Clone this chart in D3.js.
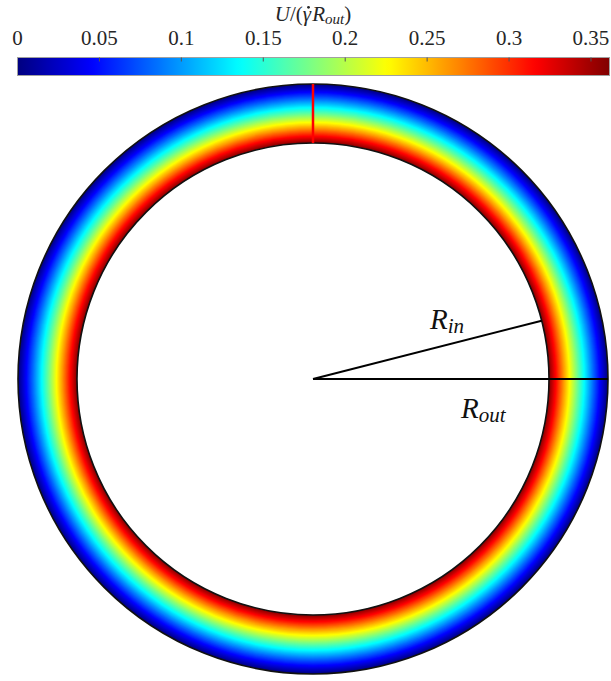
<!DOCTYPE html>
<html>
<head>
<meta charset="utf-8">
<script src="https://cdn.jsdelivr.net/npm/d3@7"></script>
<style>
  html, body { margin: 0; padding: 0; background: #fff; }
  svg { display: block; }
</style>
</head>
<body>
<svg id="chart" width="611" height="681"></svg>
<script>
// ---- data ----
// radial positions (r / R_out) and the velocity U/(gamma_dot R_out) there
const radialPos = [0.8, 0.85, 0.9, 0.95, 1.0];
const velocity  = [0.361, 0.263, 0.170, 0.083, 0.0];
const colorDomain = [0, 0.3613];
const tickValues = [0, 0.05, 0.1, 0.15, 0.2, 0.25, 0.3, 0.35];
const tickLabels = ["0", "0.05", "0.1", "0.15", "0.2", "0.25", "0.3", "0.35"];
const innerRadius = 0.8;   // R_in / R_out
const outerRadius = 1.0;
const rInAngleDeg = 14.3;  // angle of the R_in annotation line

// ---- jet colormap ----
function jet(t) {
  const c = v => Math.max(0, Math.min(1, v));
  const r = c(1.5 - Math.abs(4 * t - 3));
  const g = c(1.5 - Math.abs(4 * t - 2));
  const b = c(1.5 - Math.abs(4 * t - 1));
  return d3.rgb(r * 255, g * 255, b * 255).toString();
}

const svg = d3.select("#chart");
const serif = "'Liberation Serif', 'DejaVu Serif', serif";

// ---- colorbar ----
const cbX = d3.scaleLinear().domain(colorDomain).range([17.5, 609.5]);
const color = d3.scaleSequential(jet).domain(colorDomain);
const cbTop = 57.5, cbH = 18;

const defs = svg.append("defs");
const grad = defs.append("linearGradient").attr("id", "jetgrad")
  .attr("x1", "0%").attr("x2", "100%").attr("y1", "0%").attr("y2", "0%");
d3.range(0, 101).forEach(i => {
  grad.append("stop").attr("offset", i + "%").attr("stop-color", jet(i / 100));
});
svg.append("rect")
  .attr("x", cbX.range()[0]).attr("y", cbTop)
  .attr("width", cbX.range()[1] - cbX.range()[0]).attr("height", cbH)
  .attr("fill", "url(#jetgrad)")
  .attr("stroke", "#a0a0a0").attr("stroke-width", 1);

svg.append("g").selectAll("line").data(tickValues.slice(1)).join("line")
  .attr("x1", d => cbX(d)).attr("x2", d => cbX(d))
  .attr("y1", cbTop).attr("y2", cbTop + 4)
  .attr("stroke", "#555").attr("stroke-width", 1);

svg.append("g").selectAll("text").data(tickValues).join("text")
  .attr("x", d => cbX(d)).attr("y", 44.5)
  .attr("text-anchor", "middle")
  .attr("font-family", serif).attr("font-size", 21)
  .attr("fill", "#262626")
  .text((d, i) => tickLabels[i]);

// title U/(γ̇ R_out)
const title = svg.append("text")
  .attr("x", 313).attr("y", 21)
  .attr("text-anchor", "middle")
  .attr("font-family", serif).attr("font-size", 21).attr("fill", "#262626");
title.append("tspan").attr("font-style", "italic").text("U");
title.append("tspan").text("/(");
title.append("tspan").attr("font-style", "italic").text("\u03B3");
title.append("tspan").attr("font-style", "italic").attr("dx", 1).text("R");
title.append("tspan").attr("font-style", "italic").attr("font-size", 15).attr("dy", 3).text("out");
title.append("tspan").attr("dy", -3).text(")");
// dot above gamma (character index 3)
try {
  const ext = title.node().getExtentOfChar(3);
  svg.append("circle")
    .attr("cx", ext.x + ext.width / 2 + 1.5)
    .attr("cy", ext.y + ext.height * 0.22)
    .attr("r", 1.4).attr("fill", "#262626");
} catch (e) {}

// ---- ring ----
const cx = 313, cy = 379;
const rScale = d3.scaleLinear().domain([0, 1]).range([0, 295]);
const uOfR = d3.scaleLinear().domain(radialPos).range(velocity);

const ring = svg.append("g").attr("transform", `translate(${cx},${cy})`);
const nSteps = 180;
const steps = d3.range(nSteps + 1).map(i =>
  outerRadius - (outerRadius - innerRadius) * i / nSteps);
ring.selectAll("circle.band").data(steps).join("circle")
  .attr("class", "band")
  .attr("r", d => rScale(d))
  .attr("fill", d => color(uOfR(d)));
ring.append("circle").attr("r", rScale(innerRadius)).attr("fill", "#fff");

// outlines
ring.append("circle").attr("r", rScale(outerRadius))
  .attr("fill", "none").attr("stroke", "#111").attr("stroke-width", 1.6);
ring.append("circle").attr("r", rScale(innerRadius))
  .attr("fill", "none").attr("stroke", "#111").attr("stroke-width", 1.6);

// red vertical line at top
ring.append("line")
  .attr("x1", 0).attr("x2", 0)
  .attr("y1", -rScale(outerRadius)).attr("y2", -rScale(innerRadius))
  .attr("stroke", "#ff0000").attr("stroke-width", 2.5);

// R_in line
const a = rInAngleDeg * Math.PI / 180;
ring.append("line")
  .attr("x1", 0).attr("y1", 0)
  .attr("x2", rScale(innerRadius) * Math.cos(a))
  .attr("y2", -rScale(innerRadius) * Math.sin(a))
  .attr("stroke", "#000").attr("stroke-width", 2);
// R_out line
ring.append("line")
  .attr("x1", 0).attr("y1", 0)
  .attr("x2", rScale(outerRadius)).attr("y2", 0)
  .attr("stroke", "#000").attr("stroke-width", 2);

// labels
function rLabel(x, y, sub) {
  const t = svg.append("text").attr("x", x).attr("y", y)
    .attr("font-family", serif).attr("font-size", 29).attr("fill", "#111")
    .attr("font-style", "italic");
  t.append("tspan").text("R");
  t.append("tspan").attr("font-size", 21).attr("dy", 4).text(sub);
}
rLabel(430, 329, "in");
rLabel(461, 418, "out");
</script>
</body>
</html>
